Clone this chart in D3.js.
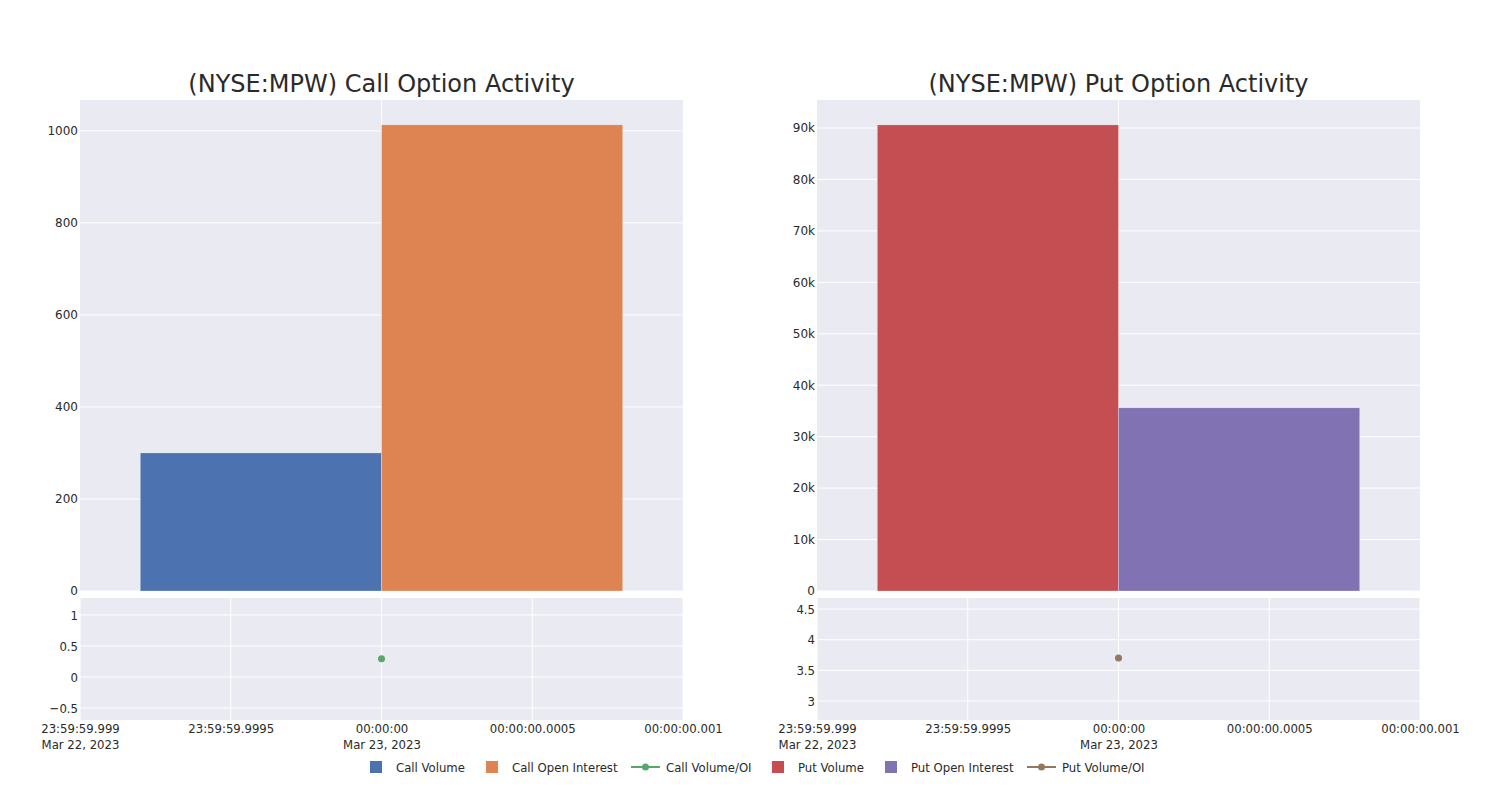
<!DOCTYPE html>
<html><head><meta charset="utf-8">
<script src="https://cdn.jsdelivr.net/npm/d3@7"></script>
<style>
body{margin:0;background:#fff;}
svg text{font-family:"DejaVu Sans",sans-serif;fill:#2a2a2a;}
.cond{font-family:"DejaVu Sans Condensed","DejaVu Sans",sans-serif;font-stretch:condensed;}
</style></head>
<body><svg id="c" width="1500" height="800"></svg>
<script>
// ---- data ----
const ticker = "(NYSE:MPW)";
const panelTitles = ["Call Option Activity", "Put Option Activity"];
const callSeries = ["Call Volume", "Call Open Interest"];
const callValues = [300, 1013];
const callRatioName = "Call Volume/OI";
const callRatio = [0.296];
const putSeries = ["Put Volume", "Put Open Interest"];
const putValues = [90600, 35600];
const putRatioName = "Put Volume/OI";
const putRatio = [3.7];
// time offsets in ms relative to Mar 23, 2023 00:00:00
const xTickMs = [-1, -0.5, 0, 0.5, 1];
const xTickLines1 = ["23:59:59.999", "23:59:59.9995", "00:00:00", "00:00:00.0005", "00:00:00.001"];
const xTickLines2 = ["Mar 22, 2023", "", "Mar 23, 2023", "", ""];
const callTicks = [0, 200, 400, 600, 800, 1000];
const putTicks = [0, 10000, 20000, 30000, 40000, 50000, 60000, 70000, 80000, 90000];
const callRatioTicks = [-0.5, 0, 0.5, 1];
const putRatioTicks = [3, 3.5, 4, 4.5];

const colors = {"Call Volume":"#4c72b0","Call Open Interest":"#dd8452","Call Volume/OI":"#55a868",
  "Put Volume":"#c44e52","Put Open Interest":"#8172b3","Put Volume/OI":"#937860"};

const svg = d3.select("#c");
const bg = "#eaeaf2";

function panel(x0, x1, series, values, yDomain, yTicks, yFmt, ratioName, ratio, rDomain, rTicks, title) {
  const x = d3.scaleLinear().domain([-1, 1]).range([x0, x1]);
  const yTop = d3.scaleLinear().domain(yDomain).range([591, 100]);
  const yBot = d3.scaleLinear().domain(rDomain).range([720, 598]);
  const g = svg.append("g");
  g.append("rect").attr("x", x0).attr("y", 100).attr("width", x1 - x0).attr("height", 491).attr("fill", bg);
  g.append("rect").attr("x", x0).attr("y", 598).attr("width", x1 - x0).attr("height", 122).attr("fill", bg);
  // top grid
  yTicks.forEach(t => g.append("line").attr("x1", x0).attr("x2", x1).attr("y1", yTop(t)).attr("y2", yTop(t))
    .attr("stroke", "#fff").attr("stroke-width", 1));
  g.append("line").attr("x1", x(0)).attr("x2", x(0)).attr("y1", 100).attr("y2", 591).attr("stroke", "#fff");
  // bars
  const bw = 0.8;
  series.forEach((s, i) => {
    const xs = i === 0 ? -bw : 0;
    g.append("rect").attr("x", x(xs)).attr("width", x(xs + bw) - x(xs))
      .attr("y", yTop(values[i])).attr("height", yTop(0) - yTop(values[i]))
      .attr("fill", colors[s]).attr("stroke", "rgba(255,255,255,0.5)").attr("stroke-width", 0.5);
  });
  // top y labels
  const ay = d3.axisLeft(yTop).tickValues(yTicks).tickFormat(yFmt).tickSize(0).tickPadding(1);
  const ag = g.append("g").attr("transform", `translate(${x0 - 1},0)`).call(ay);
  ag.select(".domain").remove();
  ag.selectAll("text").attr("font-size", 12).attr("fill", "#2a2a2a").attr("font-family", "DejaVu Sans");
  // bottom grid
  rTicks.forEach(t => g.append("line").attr("x1", x0).attr("x2", x1).attr("y1", yBot(t)).attr("y2", yBot(t)).attr("stroke", "#fff"));
  xTickMs.forEach(t => g.append("line").attr("x1", x(t)).attr("x2", x(t)).attr("y1", 598).attr("y2", 720).attr("stroke", "#fff"));
  const ar = d3.axisLeft(yBot).tickValues(rTicks).tickFormat(d => d < 0 ? "\u2212" + Math.abs(d) : String(d)).tickSize(0).tickPadding(1);
  const arg = g.append("g").attr("transform", `translate(${x0 - 1},0)`).call(ar);
  arg.select(".domain").remove();
  arg.selectAll("text").attr("font-size", 13).attr("class", "cond").attr("fill", "#2a2a2a").attr("font-family", null);
  // ratio point
  g.append("circle").attr("cx", x(0)).attr("cy", yBot(ratio[0])).attr("r", 3.5).attr("fill", colors[ratioName]);
  // x tick labels
  const ax = d3.axisBottom(x).tickValues(xTickMs).tickSize(0).tickPadding(4).tickFormat((d, i) => xTickLines1[i]);
  const axg = g.append("g").attr("transform", "translate(0,720)").call(ax);
  axg.select(".domain").remove();
  axg.selectAll("text").attr("font-size", 13).attr("class", "cond").attr("fill", "#2a2a2a").attr("font-family", null)
    .each(function(d, i) {
      if (xTickLines2[i]) {
        d3.select(this).append("tspan").attr("x", 0).attr("dy", "1.25em").text(xTickLines2[i]);
      }
    });
  // title
  svg.append("text").attr("x", (x0 + x1) / 2).attr("y", 92).attr("text-anchor", "middle")
    .attr("font-size", 24).text(ticker + " " + title);
}

panel(80, 683, callSeries, callValues, [0, 1067], callTicks, d => String(d),
  callRatioName, callRatio, [-0.694, 1.274], callRatioTicks, panelTitles[0]);
panel(817, 1420, putSeries, putValues, [0, 95444], putTicks, d => d === 0 ? "0" : (d / 1000) + "k",
  putRatioName, putRatio, [2.69, 4.68], putRatioTicks, panelTitles[1]);

// legend
const legendItems = [
  {name: "Call Volume", type: "bar", x: 370},
  {name: "Call Open Interest", type: "bar", x: 486},
  {name: "Call Volume/OI", type: "line", x: 631},
  {name: "Put Volume", type: "bar", x: 772},
  {name: "Put Open Interest", type: "bar", x: 885},
  {name: "Put Volume/OI", type: "line", x: 1027}
];
const lg = svg.append("g");
legendItems.forEach(it => {
  const c = colors[it.name];
  if (it.type === "bar") {
    lg.append("rect").attr("x", it.x).attr("y", 761).attr("width", 12).attr("height", 12).attr("fill", c);
    lg.append("text").attr("class", "cond").attr("x", it.x + 26).attr("y", 772).attr("font-size", 13).text(it.name);
  } else {
    lg.append("line").attr("x1", it.x).attr("x2", it.x + 29).attr("y1", 767).attr("y2", 767).attr("stroke", c).attr("stroke-width", 2);
    lg.append("circle").attr("cx", it.x + 14.5).attr("cy", 767).attr("r", 3.5).attr("fill", c);
    lg.append("text").attr("class", "cond").attr("x", it.x + 35).attr("y", 772).attr("font-size", 13).text(it.name);
  }
});
</script></body></html>
